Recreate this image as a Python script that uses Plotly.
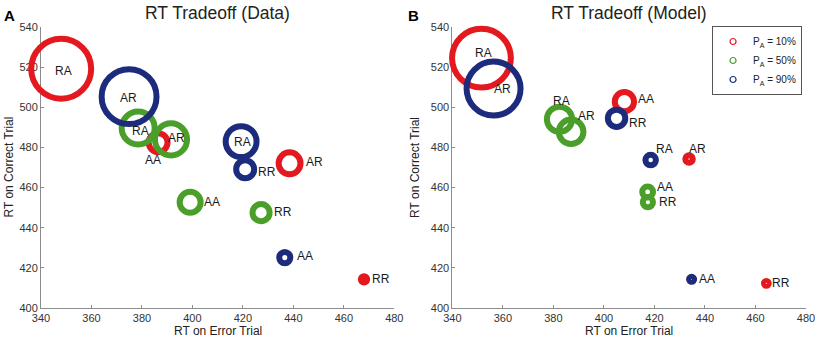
import plotly.graph_objects as go

# ---------------- data ----------------
conditions = ["P<sub>A</sub> = 10%", "P<sub>A</sub> = 50%", "P<sub>A</sub> = 90%"]

# Panel A (Data)
data_labels = [["RA", "AA", "AR", "RR"], ["RA", "AR", "AA", "RR"], ["AR", "RA", "RR", "AA"]]
data_err_rt = [[348.0, 386.4, 438.5, 468.0], [378.5, 391.5, 399.1, 427.2], [374.9, 419.3, 420.9, 436.6]]
data_cor_rt = [[519.2, 482.4, 472.1, 414.3], [489.7, 484.0, 452.7, 447.5], [505.3, 482.9, 469.1, 425.1]]
data_bubble = [[22.0, 8.3, 9.3, 4.1], [13.0, 12.7, 9.0, 7.7], [20.3, 12.3, 8.0, 5.7]]

# Panel B (Model)
model_labels = [["RA", "AA", "AR", "RR"], ["RA", "AR", "AA", "RR"], ["AR", "RR", "RA", "AA"]]
model_err_rt = [[351.5, 408.1, 433.7, 464.3], [382.4, 387.0, 417.3, 417.4], [356.3, 405.0, 418.5, 434.7]]
model_cor_rt = [[524.5, 502.8, 474.2, 412.3], [494.0, 487.8, 457.8, 452.7], [509.3, 494.5, 473.7, 414.3]]
model_bubble = [[21.6, 8.4, 4.5, 3.6], [10.4, 10.2, 5.6, 5.4], [20.0, 7.8, 5.5, 3.7]]

x_ticks = [340, 360, 380, 400, 420, 440, 460, 480]
y_ticks = [400, 420, 440, 460, 480, 500, 520, 540]

# ---------------- styles ----------------
COLORS = ["#e3191f", "#4a9f2a", "#1c2b7b"]
RING = 6.0
SIZE_SCALE = 3.0
FONT = "Liberation Sans, Arial, sans-serif"

# label offsets in pixels (dx right, dy down)
data_label_off = [[(2, 2), (-5, 17), (25, -1), (16.5, 0)],
                  [(2, 3), (6, -1), (21.6, 0), (22, -0.7)],
                  [(-1, 1), (1, 0), (21.6, 2.4), (20, -1.7)]]
model_label_off = [[(1.7, -5), (21.5, -2.7), (8.6, -10), (14.7, 0)],
                   [(2.3, -18.6), (15.7, -15.7), (17, -5), (20, 0)],
                   [(9, 0.7), (21, 4.4), (13.7, -10.7), (15.5, 0)]]

W, H = 827, 339
ML, MR, MT, MB = 41, 13, 27, 31
plot_w = W - ML - MR
plot_h = H - MT - MB
d1 = [0, (398 - 41) / plot_w]
d2 = [(456.7 - 41) / plot_w, 1]

fig = go.Figure()
annotations = []


def add_panel(xs, ys, bubbles, labels, offs, xref, yref):
    for ci in range(3):
        sizes = [max(b * SIZE_SCALE - RING, 0.5) for b in bubbles[ci]]
        fig.add_trace(go.Scatter(
            x=xs[ci], y=ys[ci], mode="markers", xaxis=xref, yaxis=yref,
            showlegend=False, cliponaxis=False, hoverinfo="skip",
            marker=dict(symbol="circle-open", size=sizes, color=COLORS[ci], opacity=1,
                        line=dict(width=RING, color=COLORS[ci])),
        ))
        for xv, yv, lab, (dx, dy) in zip(xs[ci], ys[ci], labels[ci], offs[ci]):
            annotations.append(dict(
                x=xv, y=yv, xref=xref, yref=yref, text=lab, showarrow=False,
                xanchor="center", yanchor="middle", xshift=dx, yshift=-dy,
                font=dict(family=FONT, size=12, color="#1a1a1a")))


add_panel(data_err_rt, data_cor_rt, data_bubble, data_labels, data_label_off, "x", "y")
add_panel(model_err_rt, model_cor_rt, model_bubble, model_labels, model_label_off, "x2", "y2")

# legend-only traces
for ci in range(3):
    fig.add_trace(go.Scatter(
        x=[None], y=[None], mode="markers", name=conditions[ci], xaxis="x2", yaxis="y2",
        marker=dict(symbol="circle-open", size=6, color=COLORS[ci], opacity=1,
                    line=dict(width=1.2, color=COLORS[ci])),
    ))

axis_common = dict(showline=True, linecolor="#8c8c8c", linewidth=1, ticks="inside", ticklen=3,
                   tickcolor="#8c8c8c", showgrid=False, zeroline=False, mirror=False,
                   tickfont=dict(family=FONT, size=11, color="#333333"), layer="below traces")

fig.update_layout(
    width=W, height=H, margin=dict(l=ML, r=MR, t=MT, b=MB),
    paper_bgcolor="white", plot_bgcolor="white",
    font=dict(family=FONT, color="#222222"),
    xaxis=dict(domain=d1, range=[340, 480], tickvals=x_ticks, anchor="y", **axis_common),
    yaxis=dict(domain=[0, 1], range=[400, 540], tickvals=y_ticks, anchor="x", **axis_common),
    xaxis2=dict(domain=d2, range=[340, 480], tickvals=x_ticks, anchor="y2", **axis_common),
    yaxis2=dict(domain=[0, 1], range=[400, 540], tickvals=y_ticks, anchor="x2", **axis_common),
    legend=dict(x=(810 - 41) / plot_w, y=(308 - 60.5) / plot_h, xanchor="right", yanchor="middle",
                bordercolor="#555555", borderwidth=1, bgcolor="white",
                font=dict(family=FONT, size=10, color="#222222"), tracegroupgap=0),
)

# titles, axis titles, panel letters
for dom, title in [(d1, "RT Tradeoff (Data)"), (d2, "RT Tradeoff (Model)")]:
    cx = (dom[0] + dom[1]) / 2
    annotations.append(dict(x=cx, y=1, xref="paper", yref="paper", yshift=14, text=title,
                            showarrow=False, xanchor="center", yanchor="middle",
                            font=dict(family=FONT, size=17.5, color="#222222")))
    annotations.append(dict(x=cx, y=0, xref="paper", yref="paper", yshift=-23, text="RT on Error Trial",
                            showarrow=False, xanchor="center", yanchor="middle",
                            font=dict(family=FONT, size=12, color="#222222")))

annotations.append(dict(x=d1[0], y=0.5, xref="paper", yref="paper", xshift=-33, text="RT on Correct Trial",
                        textangle=-90, showarrow=False, xanchor="center", yanchor="middle",
                        font=dict(family=FONT, size=12, color="#222222")))
annotations.append(dict(x=d2[0], y=0.5, xref="paper", yref="paper", xshift=-38, text="RT on Correct Trial",
                        textangle=-90, showarrow=False, xanchor="center", yanchor="middle",
                        font=dict(family=FONT, size=12, color="#222222")))

annotations.append(dict(x=d1[0], y=1, xref="paper", yref="paper", xshift=-31.5, yshift=12, text="<b>A</b>",
                        showarrow=False, xanchor="center", yanchor="middle",
                        font=dict(family=FONT, size=15, color="#000000")))
annotations.append(dict(x=d2[0], y=1, xref="paper", yref="paper", xshift=-38.5, yshift=12, text="<b>B</b>",
                        showarrow=False, xanchor="center", yanchor="middle",
                        font=dict(family=FONT, size=15, color="#000000")))

fig.update_layout(annotations=annotations)
fig.write_html("out.html", config={"displayModeBar": False},
               post_script="document.body.style.margin='0';document.body.style.overflow='hidden';")
